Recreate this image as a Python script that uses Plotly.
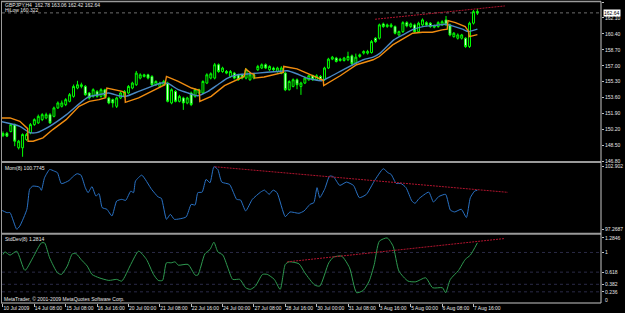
import plotly.graph_objects as go

FONT = "Liberation Sans"
TXT = "#e6e6e6"

# ---------------- data ----------------
bars = list(range(122))
opens = [149.56, 149.80, 149.99, 150.73, 148.26, 148.26, 149.14, 149.85, 150.73, 150.91,
         151.26, 151.44, 151.79, 151.61, 152.51, 152.68, 152.86, 153.21, 153.74, 154.63,
         154.80, 154.80, 154.10, 153.74, 154.27, 153.74, 154.45, 153.57, 153.39, 152.68,
         153.57, 153.74, 154.10, 154.63, 154.98, 155.69, 155.86, 156.04, 155.86, 154.98,
         154.80, 154.98, 155.16, 153.04, 154.27, 153.21, 153.57, 153.04, 154.10, 153.74,
         154.10, 154.10, 155.16, 155.69, 155.69, 157.11, 156.39, 156.39, 155.86, 156.22,
         156.04, 156.04, 155.69, 155.51, 155.69, 156.58, 156.76, 157.11, 156.58, 156.76,
         156.39, 156.22, 156.22, 154.45, 154.80, 155.51, 154.80, 155.16, 155.51, 155.94,
         155.51, 155.86, 155.51, 156.76, 157.71, 157.82, 157.56, 157.56, 157.64, 158.06,
         157.29, 157.99, 158.35, 158.35, 158.41, 159.94, 159.94, 161.46, 161.18, 161.18,
         161.18, 160.29, 160.64, 161.60, 161.18, 161.36, 160.64, 161.36, 161.60, 161.54,
         161.11, 161.18, 161.36, 161.89, 161.36, 160.11, 159.94, 159.94, 159.94, 159.05,
         161.54, 162.78]
highs = [150.00, 149.95, 150.90, 150.85, 149.10, 149.80, 149.85, 150.90, 151.40, 151.80,
         151.95, 152.00, 151.95, 152.65, 153.20, 153.30, 153.55, 154.10, 155.00, 155.40,
         155.20, 154.95, 154.20, 154.60, 154.40, 154.60, 154.55, 153.70, 153.50, 153.70,
         154.25, 154.40, 154.95, 155.30, 156.45, 156.20, 156.15, 156.15, 156.00, 155.45,
         155.30, 155.50, 155.30, 154.60, 154.40, 153.90, 153.70, 153.70, 154.25, 154.60,
         154.55, 155.45, 156.20, 156.30, 157.30, 157.25, 156.90, 156.55, 156.55, 156.35,
         156.15, 156.15, 156.75, 156.20, 156.15, 157.10, 157.25, 157.25, 157.05, 156.90,
         156.90, 156.95, 156.35, 155.45, 155.65, 155.65, 155.30, 155.85, 156.05, 156.05,
         156.10, 156.00, 156.90, 157.85, 158.05, 157.95, 157.85, 157.95, 158.50, 158.20,
         158.30, 158.30, 158.65, 158.70, 159.75, 160.05, 161.50, 161.60, 161.50, 161.55,
         161.30, 160.75, 161.75, 161.75, 161.60, 161.50, 161.70, 162.05, 161.75, 161.65,
         161.40, 161.75, 161.85, 162.31, 161.50, 160.60, 160.45, 160.40, 160.05, 161.70,
         162.95, 163.06]
lows = [149.40, 149.40, 149.90, 148.43, 148.08, 147.30, 149.00, 149.70, 150.60, 150.80,
        151.10, 151.30, 150.80, 151.50, 152.40, 152.55, 152.70, 153.10, 153.60, 154.50,
        154.60, 153.80, 153.40, 153.60, 153.60, 153.60, 153.60, 152.90, 152.55, 152.50,
        153.45, 153.60, 154.00, 154.50, 154.85, 155.55, 155.75, 155.55, 154.85, 154.85,
        154.70, 154.85, 153.10, 152.90, 153.10, 153.10, 152.30, 152.90, 152.70, 153.60,
        153.95, 154.00, 155.05, 155.55, 155.55, 156.25, 156.25, 156.10, 155.75, 155.55,
        155.40, 155.55, 155.55, 155.40, 155.55, 156.45, 156.65, 156.65, 156.45, 156.45,
        156.25, 156.10, 154.30, 154.35, 154.70, 154.50, 153.90, 155.05, 155.40, 155.40,
        155.40, 155.40, 155.40, 156.65, 157.60, 157.35, 157.45, 157.45, 157.50, 157.00,
        157.15, 157.85, 158.20, 158.20, 158.30, 159.45, 159.80, 161.05, 161.05, 161.05,
        160.35, 160.15, 160.50, 161.10, 161.05, 160.50, 160.50, 161.25, 161.20, 161.05,
        161.00, 161.05, 161.25, 161.25, 160.15, 160.00, 159.80, 159.80, 158.90, 158.90,
        161.40, 162.42]
closes = [149.78, 149.50, 150.73, 148.96, 148.96, 149.67, 149.67, 150.73, 151.26, 151.61,
          151.79, 151.79, 150.91, 152.51, 153.04, 153.04, 153.39, 153.92, 154.80, 154.98,
          154.98, 153.92, 153.57, 154.45, 153.74, 154.45, 153.74, 153.04, 153.04, 153.57,
          154.10, 154.27, 154.80, 155.16, 156.22, 156.04, 156.04, 155.69, 154.98, 155.33,
          155.16, 155.33, 153.21, 154.45, 153.21, 153.74, 153.04, 153.57, 152.86, 154.45,
          154.45, 155.33, 156.04, 156.15, 157.11, 156.39, 156.76, 156.22, 156.39, 155.69,
          155.51, 155.69, 156.58, 156.04, 156.04, 156.93, 157.11, 156.76, 156.93, 156.58,
          156.76, 156.76, 154.45, 155.33, 155.51, 154.98, 155.16, 155.69, 155.94, 155.51,
          155.94, 155.51, 156.76, 157.71, 157.92, 157.46, 157.71, 157.82, 157.99, 157.21,
          157.92, 158.17, 158.52, 158.52, 159.58, 159.58, 161.36, 161.18, 161.36, 161.36,
          160.47, 160.64, 161.60, 161.25, 161.46, 160.64, 161.54, 161.89, 161.36, 161.18,
          161.25, 161.60, 161.70, 161.36, 160.29, 160.47, 160.29, 160.29, 159.05, 161.54,
          162.77, 162.64]

# blue moving average
ma_bar = [-0.8, 4.3, 6.8, 8.6, 11.9, 16.2, 20.2, 22.0, 24.5, 27.0, 29.5, 31.3, 34.6, 37.9,
          40.4, 42.2, 44.7, 47.2, 49.7, 52.3, 54.8, 57.3, 59.8, 64.9, 69.9, 72.5, 74.9, 77.5,
          81.3, 83.3, 87.6, 91.9, 94.4, 96.2, 99.7, 102.0, 104.8, 107.1, 110.6, 112.9, 114.6,
          117.2, 118.7, 121.0]
ma_val = [151.08, 150.55, 149.88, 149.88, 150.55, 151.79, 153.21, 153.71, 153.92, 154.10,
          153.81, 153.74, 154.27, 154.80, 155.16, 155.09, 154.45, 154.10, 153.81, 154.27,
          154.98, 155.69, 156.04, 156.22, 156.39, 156.47, 156.15, 155.69, 155.41, 155.80,
          156.76, 157.64, 157.92, 158.35, 159.76, 160.29, 160.90, 161.18, 161.32, 161.43,
          161.25, 160.90, 160.64, 160.90]

# orange HiLow line
hl_bar = [-0.8, 1.8, 4.3, 5.6, 6.3, 6.4, 7.7, 10.2, 12.7, 16.1, 19.4, 22.0, 24.5, 26.2,
          26.3, 26.5, 30.4, 31.1, 31.2, 34.6, 37.9, 41.3, 41.7, 44.7, 48.1, 50.1, 50.2,
          53.1, 56.5, 59.8, 61.5, 61.9, 63.2, 64.0, 64.1, 66.6, 70.8, 71.5, 71.6, 75.0,
          77.5, 81.3, 81.7, 81.8, 86.0, 90.2, 94.4, 96.0, 99.4, 101.9, 104.5, 107.0,
          109.5, 112.0, 113.3, 113.5, 115.4, 117.9, 118.8, 118.9, 121.0]
hl_val = [151.44, 151.44, 151.08, 150.55, 150.30, 148.96, 148.96, 149.32, 150.20, 151.26,
          152.68, 153.21, 153.39, 153.60, 154.45, 154.63, 154.27, 154.10, 153.10, 153.57,
          154.27, 154.98, 155.86, 155.33, 154.63, 154.38, 153.21, 153.74, 154.88, 155.51,
          155.86, 156.65, 156.22, 156.10, 155.69, 155.80, 156.22, 156.30, 156.93, 156.67,
          156.22, 155.51, 155.45, 154.88, 155.94, 157.11, 157.64, 157.99, 159.23, 159.84,
          160.47, 160.58, 160.58, 160.83, 160.90, 161.81, 161.60, 161.18, 160.64, 160.11,
          160.32]
hilow_last = 160.322

# momentum
mom_bar = [-0.8, 1.0, 1.8, 3.5, 4.3, 6.1, 6.8, 7.6, 9.3, 9.8, 10.6, 11.9, 13.1, 13.9, 14.9,
           16.9, 17.7, 18.9, 19.9, 21.0, 21.7, 22.7, 23.7, 24.5, 25.3, 26.5, 27.8, 29.0,
           30.3, 31.3, 32.6, 33.3, 33.8, 35.4, 37.9, 39.6, 40.4, 41.7, 42.7, 43.7, 46.7,
           48.0, 49.0, 49.7, 50.8, 51.8, 52.8, 53.8, 54.8, 55.8, 57.8, 58.8, 59.6, 60.6,
           61.9, 63.6, 65.7, 66.7, 67.9, 68.9, 69.9, 72.0, 73.2, 75.5, 76.8, 78.3, 79.3,
           80.1, 80.8, 82.1, 83.3, 84.3, 85.9, 87.6, 89.4, 90.9, 92.7, 94.7, 97.0, 98.2,
           99.0, 100.3, 101.5, 102.8, 104.3, 105.1, 106.1, 108.6, 109.8, 111.1, 112.9,
           114.1, 115.2, 116.9, 118.2, 119.2, 120.3, 121.0]
mom_val = [99.06, 98.76, 98.76, 97.27, 97.56, 99.06, 100.85, 101.14, 101.05, 100.76,
           101.89, 102.63, 102.48, 102.34, 101.36, 101.65, 101.95, 102.25, 102.12, 101.00,
           100.55, 101.09, 100.25, 100.46, 99.21, 99.06, 98.46, 99.80, 99.95, 99.86,
           100.69, 100.55, 101.59, 102.12, 100.85, 100.16, 100.04, 98.16, 98.61, 98.16,
           98.37, 99.50, 99.44, 100.55, 100.60, 101.74, 101.44, 102.88, 102.63, 101.50,
           101.29, 100.55, 99.95, 99.89, 98.91, 99.95, 100.60, 100.78, 100.40, 100.78,
           100.55, 98.40, 98.82, 98.70, 98.91, 99.50, 99.66, 101.00, 100.10, 100.91,
           102.04, 101.98, 101.20, 101.50, 101.20, 100.10, 100.40, 101.59, 102.70, 102.34,
           102.19, 101.38, 101.38, 101.00, 99.80, 99.59, 100.01, 100.60, 99.71, 100.19,
           100.40, 98.99, 98.82, 99.06, 98.32, 100.10, 100.69, 100.77]
mom_last = 100.7745
mom_max, mom_min = 102.902, 97.2687

# standard deviation
sd_bar = [0.0, 0.5, 1.8, 3.5, 5.6, 7.6, 9.8, 10.6, 11.9, 13.9, 14.9, 16.4, 17.7, 18.7, 19.9,
          21.5, 22.7, 24.5, 27.0, 29.0, 30.3, 32.6, 34.6, 36.6, 38.4, 39.6, 40.7, 41.7,
          42.9, 43.9, 44.7, 47.2, 49.0, 49.7, 51.5, 52.8, 53.8, 54.8, 56.1, 57.3, 58.6,
          60.4, 61.9, 63.1, 64.4, 66.2, 67.4, 69.2, 70.7, 72.0, 73.0, 75.5, 77.0, 79.5,
          80.8, 83.1, 84.3, 86.4, 88.4, 90.2, 91.9, 93.4, 94.7, 96.0, 98.0, 99.5, 101.0,
          103.3, 105.3, 107.8, 109.6, 112.1, 112.9, 114.1, 116.2, 117.9, 119.2, 121.0]
sd_val = [0.961, 1.012, 0.948, 1.025, 0.652, 0.896, 1.186, 1.186, 0.896, 0.605, 0.574,
          0.735, 0.973, 0.973, 0.865, 0.735, 0.574, 0.509, 0.458, 0.478, 0.445, 0.768,
          1.025, 0.865, 0.574, 0.458, 0.458, 0.799, 0.799, 0.818, 0.754, 0.768, 0.561,
          0.561, 0.973, 1.058, 1.199, 1.012, 0.948, 0.716, 0.478, 0.478, 0.315, 0.284,
          0.348, 0.574, 0.574, 0.478, 0.284, 0.768, 0.818, 0.780, 0.605, 0.368, 0.348,
          0.799, 0.909, 0.928, 0.702, 0.219, 0.265, 0.445, 0.768, 1.219, 1.282, 1.122,
          0.638, 0.445, 0.431, 0.509, 0.315, 0.315, 0.219, 0.478, 0.652, 0.865, 0.948,
          1.186]
sd_last = 1.2814
sd_max = 1.2846
sd_levels = [1, 0.618, 0.382, 0.236]

# trend lines (bar, value)
tl_main_bar, tl_main_val = [94.9, 128.0], [161.96, 163.38]
tl_mom_bar, tl_mom_val = [54.0, 128.8], [102.875, 100.58]
tl_sd_bar, tl_sd_val = [72.5, 128.0], [0.818, 1.271]

# axis labels
price_ticks = [163.80, 162.10, 160.40, 158.70, 157.00, 155.30, 153.60, 151.90, 150.20, 148.50, 146.80]
time_tick_bars = [0, 8, 16, 24, 32, 40, 48, 56, 64, 72, 80, 88, 96, 104, 112, 120]
time_tick_text = ["10 Jul 2009", "14 Jul 08:00", "15 Jul 08:00", "16 Jul 16:00", "20 Jul 00:00",
                  "21 Jul 08:00", "22 Jul 16:00", "24 Jul 00:00", "27 Jul 08:00", "28 Jul 16:00",
                  "30 Jul 00:00", "31 Jul 08:00", "3 Aug 16:00", "5 Aug 00:00", "6 Aug 08:00",
                  "7 Aug 16:00"]

# ---------------- figure ----------------
W, H = 625, 313
ML, MR, MT, MB = 2, 18, 2, 9
PH = H - MT - MB


def py(ypix):
    return (H - MB - ypix) / PH


def px(xpix):
    return (xpix - ML) / (W - ML - MR)


fig = go.Figure()
fig.add_trace(go.Candlestick(
    x=bars, open=opens, high=highs, low=lows, close=closes,
    increasing=dict(line=dict(color="#00ff00", width=1), fillcolor="#000000"),
    decreasing=dict(line=dict(color="#00ff00", width=1), fillcolor="#ffffff"),
    whiskerwidth=0, xaxis="x", yaxis="y", hoverinfo="skip"))
fig.add_trace(go.Scatter(x=ma_bar, y=ma_val, mode="lines", yaxis="y",
                         line=dict(color="#4a88c4", width=1.4, shape="spline", smoothing=0.6),
                         hoverinfo="skip"))
fig.add_trace(go.Scatter(x=hl_bar, y=hl_val, mode="lines", yaxis="y",
                         line=dict(color="#f08c10", width=1.4), hoverinfo="skip"))
fig.add_trace(go.Scatter(x=tl_main_bar, y=tl_main_val, mode="lines", yaxis="y",
                         line=dict(color="#b0142e", width=1, dash="2px,1px"), hoverinfo="skip"))

fig.add_trace(go.Scatter(x=mom_bar, y=mom_val, mode="lines", yaxis="y2",
                         line=dict(color="#2a72c4", width=1, shape="spline", smoothing=0.5),
                         hoverinfo="skip"))
fig.add_trace(go.Scatter(x=tl_mom_bar, y=tl_mom_val, mode="lines", yaxis="y2",
                         line=dict(color="#b0142e", width=1, dash="2px,1px"), hoverinfo="skip"))

fig.add_trace(go.Scatter(x=sd_bar, y=sd_val, mode="lines", yaxis="y3",
                         line=dict(color="#2e9a50", width=1, shape="spline", smoothing=0.6),
                         hoverinfo="skip"))
fig.add_trace(go.Scatter(x=tl_sd_bar, y=tl_sd_val, mode="lines", yaxis="y3",
                         line=dict(color="#b0142e", width=1, dash="2px,1px"), hoverinfo="skip"))

tickfont = dict(family=FONT, size=5, color=TXT)
yax_common = dict(side="right", anchor="x", showgrid=False, zeroline=False, ticks="outside",
                  ticklen=2, tickcolor="#c0c0c0", tickfont=tickfont, fixedrange=True)

# main: y pixel 2 -> 163.80, 162 -> 146.80
# mom: value = 102.902 - (y-167)*k ; panel y 163..234
mom_k = (mom_max - mom_min) / 63.0
mom_top = mom_max + (167 - 163) * mom_k
mom_bot = mom_max - (234 - 167) * mom_k
# stddev: value = (305 - y)/51.7 ; panel y 235..304
sd_top = (305 - 235) / 51.7
sd_bot = (305 - 304) / 51.7

fig.update_layout(
    width=W, height=H, margin=dict(l=ML, r=MR, t=MT, b=MB),
    paper_bgcolor="#000000", plot_bgcolor="#000000", showlegend=False,
    xaxis=dict(domain=[0, 1], anchor="y3", range=[-0.25, 152.53],
               rangeslider=dict(visible=False), showgrid=False, zeroline=False,
               tickmode="array", tickvals=time_tick_bars, ticktext=time_tick_text,
               ticks="outside", ticklen=3, tickcolor="#c0c0c0", tickfont=tickfont,
               tickangle=0, ticklabelposition="outside right", fixedrange=True),
    yaxis=dict(domain=[py(162), 1], range=[146.80, 163.80], tickmode="array",
               tickvals=price_ticks, ticktext=[f"{v:.2f}" for v in price_ticks], **yax_common),
    yaxis2=dict(domain=[py(234), py(163)], range=[mom_bot, mom_top], tickmode="array",
                tickvals=[mom_max, mom_min], ticktext=[f"{mom_max:g}", f"{mom_min:g}"], **yax_common),
    yaxis3=dict(domain=[0, py(235)], range=[sd_bot, sd_top], tickmode="array",
                tickvals=[sd_max] + sd_levels, ticktext=[f"{sd_max:g}"] + [f"{v:g}" for v in sd_levels],
                **yax_common),
)

# level lines in stddev window
for lv in sd_levels:
    fig.add_shape(type="line", xref="paper", x0=0, x1=1, yref="y3", y0=lv, y1=lv,
                  line=dict(color="#2a2a46", width=1, dash="dot"), layer="below")
# bid line
fig.add_shape(type="line", xref="paper", x0=0, x1=1, yref="y", y0=closes[-1], y1=closes[-1],
              line=dict(color="#6e6e6e", width=1, dash="dot"), layer="below")

# window frames
BORDER = "#9a9a9a"
fig.add_shape(type="line", xref="paper", yref="paper", x0=px(1), x1=1, y0=py(1.5), y1=py(1.5),
              line=dict(color=BORDER, width=1.5))
for ysep in [162.5, 234.5]:
    fig.add_shape(type="line", xref="paper", yref="paper", x0=px(1), x1=1, y0=py(ysep), y1=py(ysep),
                  line=dict(color=BORDER, width=2))
fig.add_shape(type="line", xref="paper", yref="paper", x0=px(1), x1=1, y0=0, y1=0,
              line=dict(color="#c8c8c8", width=1))
fig.add_shape(type="line", xref="paper", yref="paper", x0=px(1.5), x1=px(1.5), y0=0, y1=py(1.5),
              line=dict(color=BORDER, width=1))
fig.add_shape(type="line", xref="paper", yref="paper", x0=1, x1=1, y0=0, y1=py(1.5),
              line=dict(color="#c8c8c8", width=1))

txtfont = dict(family=FONT, size=5, color=TXT)


def label(text, xpix, ypix, **kw):
    fig.add_annotation(text=text, xref="paper", yref="paper", x=px(xpix), y=py(ypix),
                       xanchor="left", yanchor="middle", showarrow=False,
                       font=kw.pop("font", txtfont), **kw)


label(f"GBPJPY,H4  {opens[-1]:.2f} {highs[-1]:.2f} {lows[-1]:.2f} {closes[-1]:.2f}", 3, 5)
label(f"HiLow {hilow_last:.3f}", 3, 10.5)
label(f"Mom(8) {mom_last:.4f}", 3, 168.5)
label(f"StdDev(8) {sd_last:.4f}", 3, 240)
label("MetaTrader, © 2001-2009 MetaQuotes Software Corp.", 2, 299.5)
label("0", 609, 301)

# current price box
fig.add_annotation(text=f"{closes[-1]:.2f}", xref="paper", yref="y", x=1, y=closes[-1],
                   xanchor="left", yanchor="middle", xshift=2, showarrow=False,
                   bgcolor="#ffffff", borderpad=0,
                   font=dict(family=FONT, size=5, color="#000000"))

fig.write_html("out.html")
